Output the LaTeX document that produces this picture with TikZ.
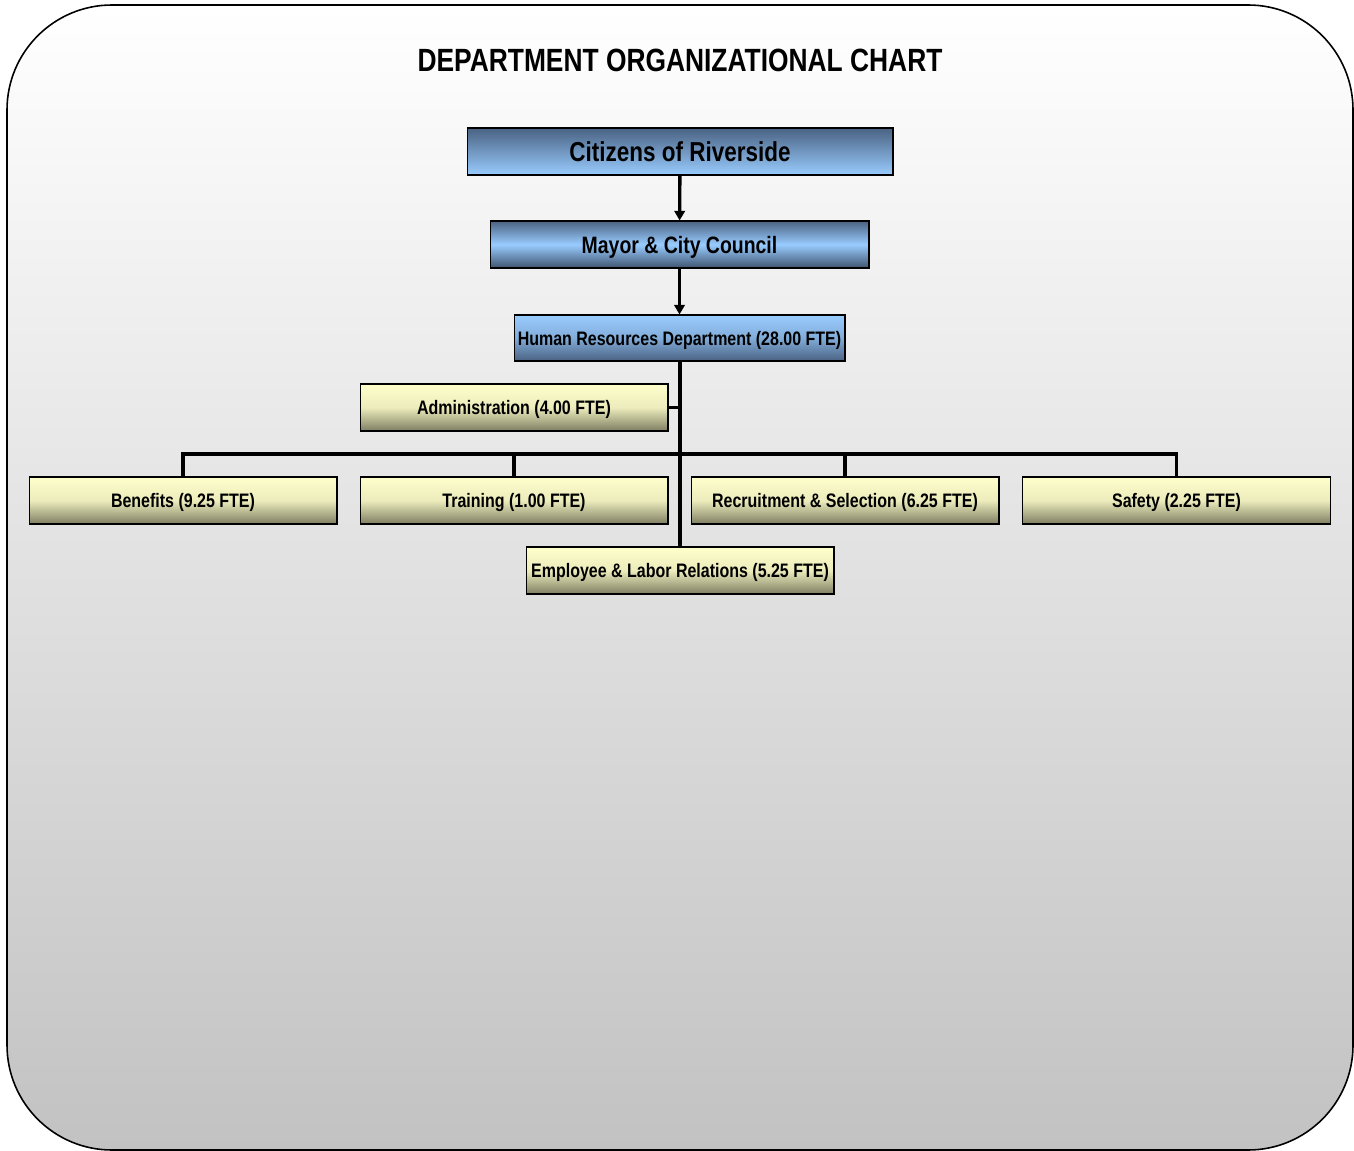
\documentclass[tikz,border=0pt]{standalone}
\usepackage{fontspec}
\setmainfont{Liberation Sans}[FakeStretch=0.82]
\usetikzlibrary{arrows.meta}
\definecolor{blueDark}{HTML}{4A6282}
\definecolor{blueLight}{HTML}{99CCFF}
\definecolor{divLight}{HTML}{FFFFCC}
\definecolor{divDark}{HTML}{7E7E62}
\definecolor{pageGray}{HTML}{C2C2C2}
\tikzset{
  orgbox/.style={draw=black, line width=0.6pt, inner sep=0pt, minimum height=0.94cm, text height=8pt, text depth=0pt, font=\bfseries\fontsize{11.1}{13}\selectfont},
  govbox/.style={orgbox, top color=blueDark, bottom color=blueLight},
  deptbox/.style={orgbox, top color=blueLight, bottom color=blueDark, middle color=blueLight!70!blueDark, minimum height=0.92cm},
  divbox/.style={orgbox, top color=divLight, bottom color=divDark, middle color=divLight!85!divDark, minimum width=6.16cm},
  link/.style={line width=1.9pt},
  feed/.style={link, -{Triangle[length=5.5pt, width=6pt]}}
}
\begin{document}
\begin{tikzpicture}[x=0.02cm, y=-0.02cm]
\useasboundingbox (0,0) rectangle (1354,1151);
\shade[draw=black, line width=0.9pt, rounded corners=2.1cm, top color=white, bottom color=pageGray] (7,5) rectangle (1353,1150);
\node[font=\bfseries\fontsize{18.3}{21}\selectfont] (title) at (680,60) {DEPARTMENT ORGANIZATIONAL CHART};
\node[govbox, minimum width=8.52cm, text height=11.2pt, font=\bfseries\fontsize{15.6}{18}\selectfont] (citizens) at (680,151.5) {Citizens of Riverside};
\node[govbox, minimum width=7.58cm, bottom color=blueDark!85!black, middle color=blueLight, text height=9.7pt, font=\bfseries\fontsize{13.5}{16}\selectfont] (council) at (679.5,244.5) {Mayor \& City Council};
\node[deptbox, minimum width=6.62cm] (hr) at (679.5,338) {Human Resources Department (28.00 FTE)};
\node[divbox] (admin) at (514,407.5) {Administration (4.00 FTE)};
\node[divbox] (benefits) at (183,500.5) {Benefits (9.25 FTE)};
\node[divbox] (training) at (514,500.5) {Training (1.00 FTE)};
\node[divbox] (recruit) at (845,500.5) {Recruitment \& Selection (6.25 FTE)};
\node[divbox] (safety) at (1176.5,500.5) {Safety (2.25 FTE)};
\node[divbox] (labor) at (680,570.5) {Employee \& Labor Relations (5.25 FTE)};
\coordinate (bus) at (680,454);
\draw[feed] (citizens) -- (council);
\draw[feed] (council) -- (hr);
\draw[link] (hr.south -| bus) -- (labor.north -| bus);
\draw[link] (admin.east) -- (admin.east -| bus);
\draw[link] (benefits.north) -- (benefits.north |- bus) -- (safety.north |- bus) -- (safety.north);
\draw[link] (training.north) -- (training.north |- bus);
\draw[link] (recruit.north) -- (recruit.north |- bus);
\end{tikzpicture}
\end{document}
